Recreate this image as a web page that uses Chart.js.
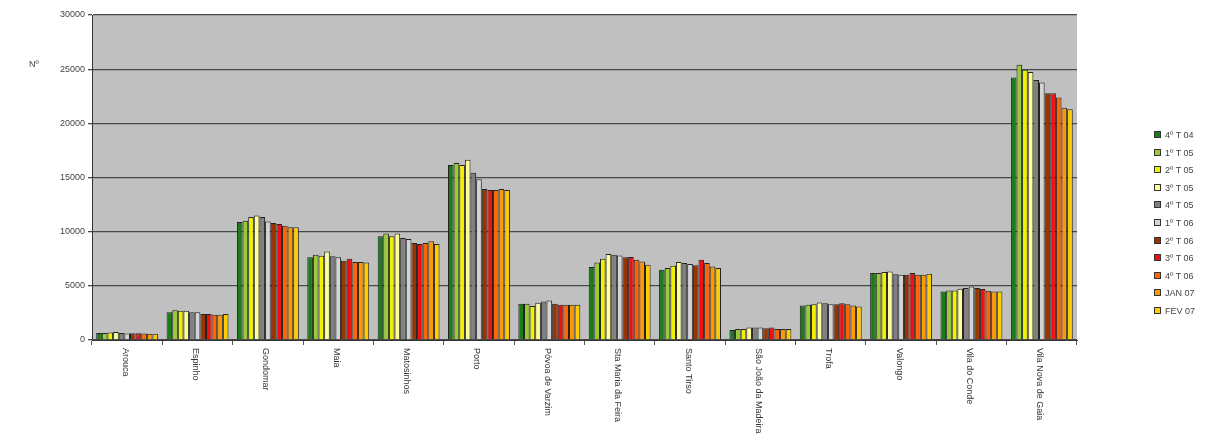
<!DOCTYPE html>
<html>
<head>
<meta charset="utf-8">
<script src="https://cdn.jsdelivr.net/npm/chart.js@4/dist/chart.umd.min.js"></script>
<style>
  body { margin: 0; background: #fff; font-family: "Liberation Sans", Arial, sans-serif; }
  #wrap { position: relative; width: 1230px; height: 445px; }
  #legend { position: absolute; left: 1154px; top: 129px; font-size: 9px; color: #444; }
  #legend div { height: 17.6px; line-height: 12px; white-space: nowrap; }
  #legend span { display: inline-block; width: 5px; height: 5px; border: 1px solid #333; margin-right: 4px; vertical-align: 0; }
</style>
</head>
<body>
<div id="wrap">
  <canvas id="chart"></canvas>
  <div id="legend"></div>
</div>
<script>
var categories = ['Arouca', 'Espinho', 'Gondomar', 'Maia', 'Matosinhos', 'Porto', 'Póvoa de Varzim',
  'Sta Maria da Feira', 'Santo Tirso', 'São João da Madeira', 'Trofa', 'Valongo', 'Vila do Conde', 'Vila Nova de Gaia'];

var seriesNames = ['4º T 04', '1º T 05', '2º T 05', '3º T 05', '4º T 05', '1º T 06', '2º T 06', '3º T 06', '4º T 06', 'JAN 07', 'FEV 07'];
var seriesColors = ['#1a7d1a', '#99cc33', '#f2f200', '#ffff99', '#808080', '#d4d4d4', '#993300', '#ee1111', '#ff6600', '#ff9900', '#ffcc00'];

var t404 = [650, 2560, 10900, 7630, 9570, 16150, 3350, 6730, 6490, 930, 3180, 6180, 4480, 24230];
var t105 = [650, 2750, 11000, 7870, 9820, 16350, 3350, 7160, 6640, 1020, 3250, 6180, 4570, 25400];
var t205 = [700, 2700, 11350, 7780, 9570, 16150, 3150, 7500, 6860, 1020, 3310, 6270, 4570, 24950];
var t305 = [750, 2700, 11500, 8180, 9820, 16650, 3450, 7930, 7190, 1150, 3460, 6330, 4730, 24750];
var t405 = [650, 2560, 11350, 7720, 9420, 15450, 3550, 7870, 7100, 1150, 3400, 6080, 4790, 24000];
var t106 = [600, 2560, 10950, 7630, 9330, 14850, 3650, 7810, 7010, 1150, 3310, 6020, 4940, 23770];
var t206 = [620, 2410, 10800, 7320, 8950, 13950, 3350, 7630, 6890, 1080, 3310, 6020, 4790, 22780];
var t306 = [620, 2410, 10700, 7500, 8860, 13850, 3250, 7660, 7410, 1150, 3400, 6180, 4700, 22780];
var t406 = [600, 2320, 10550, 7190, 8950, 13850, 3250, 7410, 7100, 1020, 3310, 6020, 4540, 22380];
var jan07 = [580, 2320, 10400, 7190, 9110, 13950, 3250, 7250, 6790, 1020, 3180, 6020, 4480, 21450];
var fev07 = [580, 2410, 10400, 7160, 8860, 13850, 3250, 6950, 6640, 1020, 3090, 6110, 4480, 21300];

var seriesValues = [t404, t105, t205, t305, t405, t106, t206, t306, t406, jan07, fev07];

var datasets = seriesValues.map(function (values, i) {
  return {
    label: seriesNames[i],
    data: values,
    backgroundColor: seriesColors[i],
    borderColor: '#222',
    borderWidth: 1,
    borderSkipped: 'bottom',
    categoryPercentage: 0.88,
    barPercentage: 1
  };
});

// gray plot area, the "Nº" caption and the vertical category labels
var decorations = {
  id: 'decorations',
  beforeDraw: function (chart) {
    var a = chart.chartArea, ctx = chart.ctx;
    ctx.save();
    ctx.fillStyle = '#c0c0c0';
    ctx.fillRect(a.left, a.top, a.right - a.left, a.bottom - a.top);
    ctx.restore();
  },
  afterDraw: function (chart) {
    var ctx = chart.ctx, x = chart.scales.x, y = chart.scales.y;
    ctx.save();
    ctx.font = '9px "Liberation Sans", Arial, sans-serif';
    ctx.fillStyle = '#444';
    ctx.textAlign = 'left';
    ctx.textBaseline = 'middle';
    ctx.fillText('Nº', 29, y.getPixelForValue(25000) - 5);
    ctx.fillStyle = '#333';
    categories.forEach(function (c, i) {
      ctx.save();
      ctx.translate(x.getPixelForValue(i) - 2, x.top + 8);
      ctx.rotate(Math.PI / 2);
      ctx.fillText(c, 0, 0);
      ctx.restore();
    });
    ctx.restore();
  }
};

var config = {
  type: 'bar',
  data: {
    labels: categories,
    datasets: datasets
  },
  options: {
    responsive: true,
    maintainAspectRatio: false,
    animation: false,
    layout: {
      padding: { top: 15, right: 153, left: 0, bottom: 0 }
    },
    plugins: {
      legend: { display: false },
      tooltip: { enabled: false }
    },
    scales: {
      x: {
        grid: { offset: true, drawOnChartArea: false, drawTicks: true, tickLength: 5, color: '#555' },
        border: { color: '#333' },
        ticks: { display: false },
        afterFit: function (scale) { scale.height = 105; }
      },
      y: {
        min: 0,
        max: 30000,
        ticks: {
          stepSize: 5000,
          color: '#444',
          padding: 3,
          font: { family: '"Liberation Sans", Arial, sans-serif', size: 9 },
          callback: function (v) { return String(v); }
        },
        grid: { color: '#4a4a4a', lineWidth: 1.3, tickLength: 4 },
        border: { color: '#333' },
        afterFit: function (scale) { scale.width = 92; }
      }
    }
  },
  plugins: [decorations]
};

window.onload = function () {
  var legend = document.getElementById('legend');
  seriesNames.forEach(function (name, i) {
    var row = document.createElement('div');
    row.innerHTML = '<span style="background:' + seriesColors[i] + '"></span>' + name;
    legend.appendChild(row);
  });
  var ctx = document.getElementById('chart').getContext('2d');
  window.myChart = new Chart(ctx, config);
};
</script>
</body>
</html>
